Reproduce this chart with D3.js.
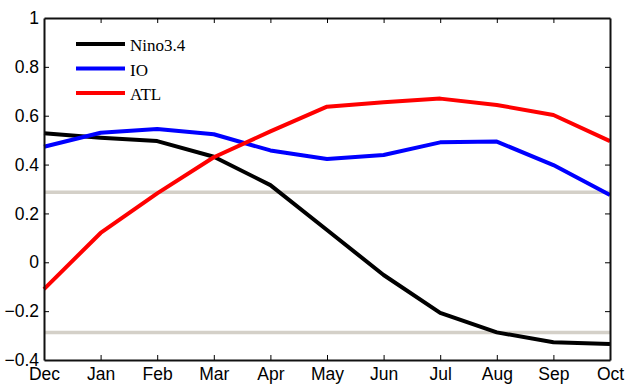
<!DOCTYPE html>
<html>
<head>
<meta charset="utf-8">
<script src="https://cdn.jsdelivr.net/npm/d3@7"></script>
<style>
  html, body { margin: 0; padding: 0; background: #fff; }
  svg { display: block; }
</style>
</head>
<body>
<svg id="chart" width="626" height="385"></svg>
<script>
// Monthly correlation of three climate indices
const months = ["Dec", "Jan", "Feb", "Mar", "Apr", "May", "Jun", "Jul", "Aug", "Sep", "Oct"];
const nino34 = [0.528, 0.51, 0.496, 0.432, 0.316, 0.132, -0.052, -0.207, -0.287, -0.327, -0.334];
const io     = [0.473, 0.53, 0.546, 0.524, 0.458, 0.423, 0.439, 0.491, 0.494, 0.398, 0.275];
const atl    = [-0.11, 0.12, 0.282, 0.43, 0.536, 0.637, 0.655, 0.67, 0.644, 0.603, 0.496];
const yTicks = [-0.4, -0.2, 0, 0.2, 0.4, 0.6, 0.8, 1];
const significance = [0.287, -0.287];

const series = [
  { name: "Nino3.4", values: nino34, color: "#000000" },
  { name: "IO",      values: io,     color: "#0000ff" },
  { name: "ATL",     values: atl,    color: "#ff0000" }
];

const svg = d3.select("#chart");
const m = { left: 44, top: 18, right: 610, bottom: 360 };

const x = d3.scalePoint().domain(months).range([m.left, m.right]);
const y = d3.scaleLinear().domain([-0.4, 1]).range([m.bottom, m.top]);

// significance thresholds
svg.append("g").selectAll("line").data(significance).join("line")
  .attr("x1", m.left).attr("x2", m.right)
  .attr("y1", d => y(d)).attr("y2", d => y(d))
  .attr("stroke", "#d4d0c8").attr("stroke-width", 3.5);

// series lines
const line = d3.line().x((d, i) => x(months[i])).y(d => y(d));
svg.append("g").selectAll("path").data(series).join("path")
  .attr("d", d => line(d.values))
  .attr("fill", "none")
  .attr("stroke", d => d.color)
  .attr("stroke-width", 4)
  .attr("stroke-linejoin", "round");

// axes with inward ticks on all four sides
const fmt = d => d === 0 ? "0" : (d === 1 ? "1" : d3.format(".1f")(d));
const tickLen = 5;

const axBottom = svg.append("g").attr("transform", `translate(0,${m.bottom})`)
  .call(d3.axisBottom(x).tickSizeInner(-tickLen).tickSizeOuter(0).tickPadding(8));
const axTop = svg.append("g").attr("transform", `translate(0,${m.top})`)
  .call(d3.axisTop(x).tickSizeInner(-tickLen).tickSizeOuter(0).tickFormat(""));
const axLeft = svg.append("g").attr("transform", `translate(${m.left},0)`)
  .call(d3.axisLeft(y).tickValues(yTicks).tickFormat(fmt).tickSizeInner(-tickLen).tickSizeOuter(0).tickPadding(5));
const axRight = svg.append("g").attr("transform", `translate(${m.right},0)`)
  .call(d3.axisRight(y).tickValues(yTicks).tickSizeInner(-tickLen).tickSizeOuter(0).tickFormat(""));

[axBottom, axTop, axLeft, axRight].forEach(g => {
  g.select(".domain").attr("stroke", "#111").attr("stroke-width", 2);
  g.selectAll(".tick line").attr("stroke", "#000").attr("stroke-width", 1);
  g.selectAll("text")
    .attr("font-family", "'Liberation Sans', Arial, sans-serif")
    .attr("font-size", 17.5).attr("fill", "#000");
});
// end ticks coincide with the frame
axBottom.selectAll(".tick line").filter((d, i) => i === 0 || i === months.length - 1).remove();
axTop.selectAll(".tick line").filter((d, i) => i === 0 || i === months.length - 1).remove();
axLeft.selectAll(".tick line").filter(d => d === -0.4 || d === 1).remove();
axRight.selectAll(".tick line").filter(d => d === -0.4 || d === 1).remove();

// legend
const legend = svg.append("g").selectAll("g").data(series).join("g")
  .attr("transform", (d, i) => `translate(76,${44 + i * 24.5})`);
legend.append("line")
  .attr("x1", 0).attr("x2", 49).attr("y1", 0).attr("y2", 0)
  .attr("stroke", d => d.color).attr("stroke-width", 4);
legend.append("text")
  .attr("x", 54).attr("y", 7)
  .attr("font-family", "'Liberation Serif', 'Times New Roman', serif")
  .attr("font-size", 17).attr("fill", "#000")
  .text(d => d.name);
</script>
</body>
</html>
